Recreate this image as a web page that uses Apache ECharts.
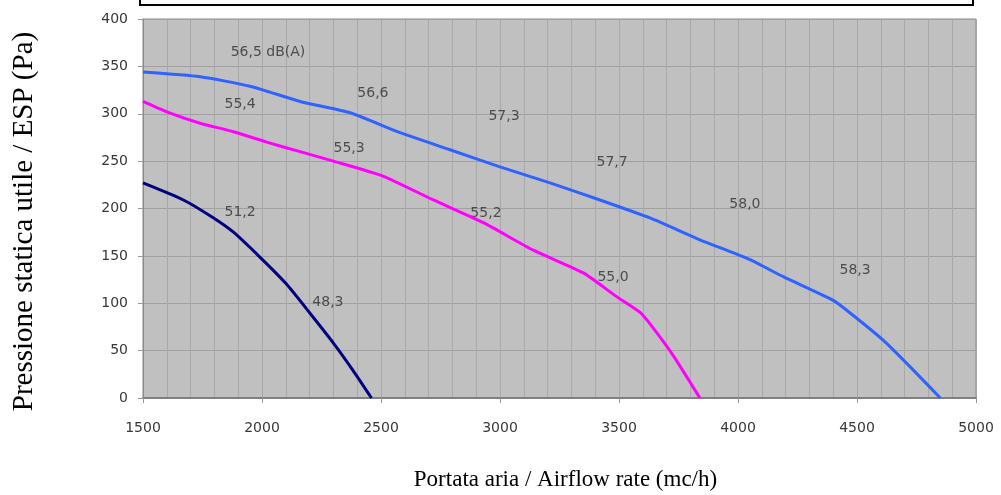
<!DOCTYPE html>
<html>
<head>
<meta charset="utf-8">
<title>Curve aerauliche</title>
<script src="https://cdn.jsdelivr.net/npm/echarts@6/dist/echarts.min.js"></script>
<style>
  html, body { margin: 0; padding: 0; background: #ffffff; }
  #chart { width: 1001px; height: 495px; }
</style>
</head>
<body>
<div id="chart"></div>
<script>
// Portata (mc/h) e pressione statica utile (Pa) per le tre velocità
const flowMax = [1500, 1740, 1950, 2160, 2370, 2580, 2790, 3000, 3210, 3420, 3630, 3840, 4050, 4190, 4400, 4470, 4610, 4750, 4850];
const pressMax = [344, 339, 329, 313, 301, 280, 262, 244, 227, 209, 190, 167, 146, 128, 103, 90, 61, 26, 0];

const flowMed = [1500, 1600, 1740, 1880, 2020, 2160, 2300, 2510, 2720, 2930, 3140, 3350, 3490, 3590, 3640, 3730, 3840];
const pressMed = [313, 302, 290, 281, 270, 260, 250, 234, 209, 185, 156, 132, 107, 90, 75, 44, 0];

const flowMin = [1500, 1670, 1790, 1880, 1990, 2100, 2200, 2300, 2380, 2460];
const pressMin = [227, 209, 191, 175, 149, 121, 90, 58, 30, 0];

// Livelli sonori dB(A) annotati lungo le curve
const noteFlow = [2025, 2466, 3017, 3471, 4029, 4492, 1908, 2366, 2941, 3475, 1908, 2277];
const notePress = [365, 321, 297, 249, 204, 135, 310, 264, 195, 127, 196, 101];
const noteText = ['56,5 dB(A)', '56,6', '57,3', '57,7', '58,0', '58,3', '55,4', '55,3', '55,2', '55,0', '51,2', '48,3'];

const xTitle = 'Portata aria / Airflow rate (mc/h)';
const yTitle = 'Pressione statica utile / ESP (Pa)';

const pairs = (xs, ys) => xs.map((x, i) => [x, ys[i]]);

const tickFont = {
  fontFamily: 'DejaVu Sans, Arial, sans-serif',
  fontSize: 14,
  color: '#383838',
  formatter: v => String(v)
};

const chart = echarts.init(document.getElementById('chart'), null, { renderer: 'canvas' });

chart.setOption({
  animation: false,
  backgroundColor: '#ffffff',
  grid: {
    left: 143, right: 25, top: 19, bottom: 97,
    outerBoundsMode: 'none',
    containLabel: false,
    show: true,
    backgroundColor: '#c0c0c0',
    borderColor: '#8a8a8a',
    borderWidth: 1
  },
  graphic: [{
    type: 'rect',
    shape: { x: 140, y: -20, width: 833, height: 25 },
    style: { fill: '#ffffff', stroke: '#000000', lineWidth: 2 }
  }],
  xAxis: [{
    type: 'value',
    min: 1500, max: 5000, interval: 500,
    name: xTitle,
    nameLocation: 'middle',
    nameGap: 70,
    nameTextStyle: {
      fontFamily: 'Liberation Serif, Times New Roman, serif',
      fontSize: 23,
      color: '#000',
      padding: [0, 0, 0, 12]
    },
    axisLine: { show: true, lineStyle: { color: '#808080', width: 2 } },
    axisTick: { show: true, length: 5, lineStyle: { color: '#9a9a9a' } },
    axisLabel: Object.assign({ margin: 23 }, tickFont),
    splitLine: { show: false }
  }, {
    type: 'value',
    min: 1500, max: 5000, interval: 100,
    position: 'bottom',
    axisLine: { show: false },
    axisTick: { show: false },
    axisLabel: { show: false },
    splitLine: { show: true, lineStyle: { color: '#a8a8a8', width: 1 } }
  }],
  yAxis: {
    type: 'value',
    min: 0, max: 400, interval: 50,
    name: yTitle,
    nameLocation: 'middle',
    nameGap: 104,
    nameRotate: 90,
    nameTextStyle: {
      fontFamily: 'Liberation Serif, Times New Roman, serif',
      fontSize: 29,
      color: '#000',
      padding: [0, 26, 0, 0]
    },
    axisLine: { show: true, lineStyle: { color: '#8a8a8a' } },
    axisTick: { show: true, length: 5, lineStyle: { color: '#9a9a9a' } },
    axisLabel: Object.assign({ margin: 15 }, tickFont),
    splitLine: { show: true, lineStyle: { color: '#a0a0a0', width: 1 } }
  },
  series: [{
    type: 'line',
    data: pairs(flowMax, pressMax),
    smooth: 0.2,
    showSymbol: false,
    lineStyle: { color: '#3062ff', width: 3 }
  }, {
    type: 'line',
    data: pairs(flowMed, pressMed),
    smooth: 0.2,
    showSymbol: false,
    lineStyle: { color: '#ff00ff', width: 3 }
  }, {
    type: 'line',
    data: pairs(flowMin, pressMin),
    smooth: 0.2,
    showSymbol: false,
    lineStyle: { color: '#000080', width: 3 }
  }, {
    type: 'scatter',
    data: noteFlow.map((x, i) => [x, notePress[i], noteText[i]]),
    symbolSize: 0,
    silent: true,
    label: {
      show: true,
      position: 'inside',
      formatter: p => p.data[2],
      fontFamily: 'DejaVu Sans, Arial, sans-serif',
      fontSize: 14,
      color: '#2e2e2e'
    }
  }]
});
</script>
</body>
</html>
